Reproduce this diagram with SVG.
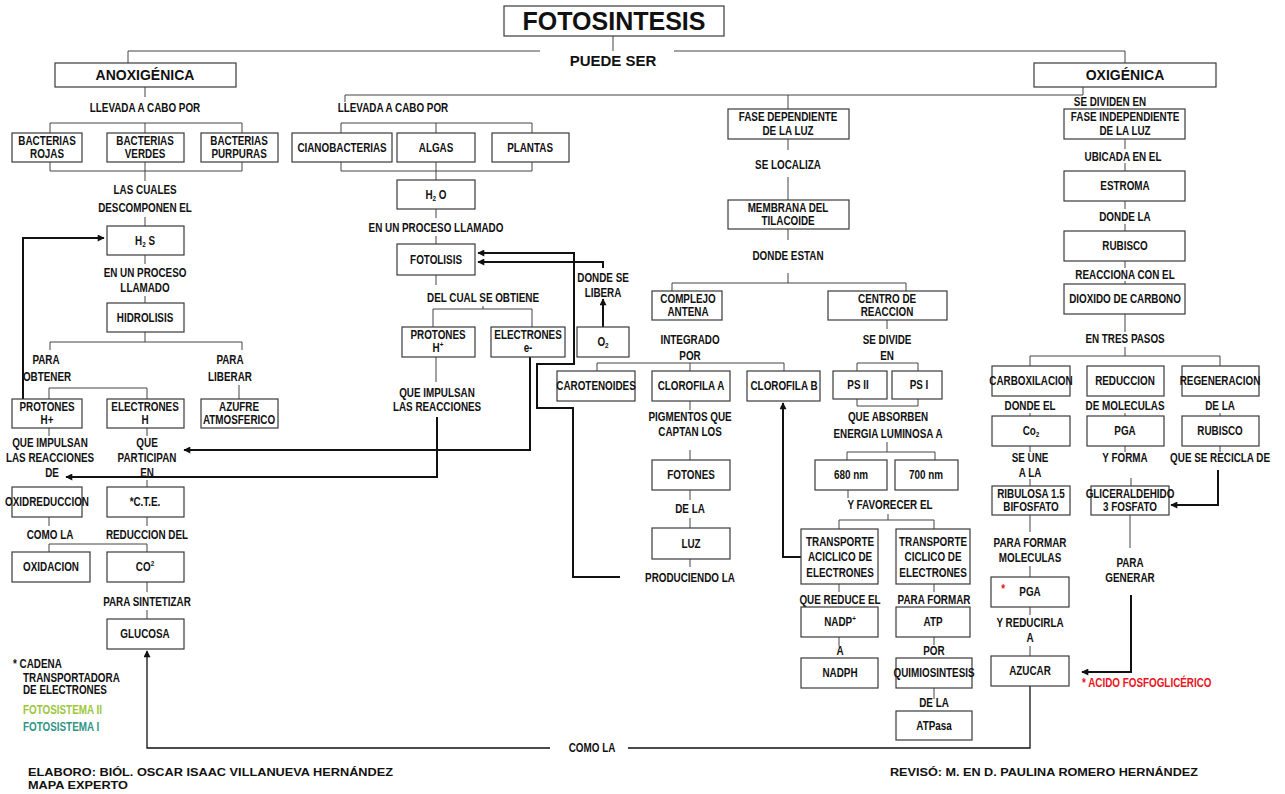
<svg xmlns="http://www.w3.org/2000/svg" width="1285" height="794" viewBox="0 0 1285 794">
<style>
.b{fill:#fff;stroke:#3a3a3a;stroke-width:1.2}
.c{fill:none;stroke:#444;stroke-width:1}
.k{fill:none;stroke:#111;stroke-width:2}
.a{fill:none;stroke:#111;stroke-width:1.3}
.t{font-family:"Liberation Sans",Arial,sans-serif;font-weight:bold;font-size:12.5px;text-anchor:middle;fill:#111;transform-box:fill-box;transform-origin:50% 50%;transform:scaleX(0.79)}
.l{text-anchor:start;transform-origin:0% 50%}
.h{font-family:"Liberation Sans",Arial,sans-serif;font-weight:bold;text-anchor:middle;fill:#111}
.f{font-family:"Liberation Sans",Arial,sans-serif;font-weight:900;font-size:11.5px;fill:#111}
.red{fill:#e8141c}
</style>
<defs>
<marker id="ah" viewBox="0 0 10 10" refX="9" refY="5" markerWidth="8" markerHeight="7" markerUnits="userSpaceOnUse" orient="auto"><path d="M0,0 L10,5 L0,10 z" fill="#111"/></marker>
</defs>

<g id="connectors">
<path class="c" d="M613,36 V51 M128,63 V51 H540 M674,51 H1125 V63 M1083,87 V95 H345 V102 M788,95 V109 M145,87 V97"/>
<path class="c" d="M50,133 V123 H242 V133 M145,123 V133 M50,162 V171 H242 V162 M145,162 V181 M145,217 V226 M145,255 V264 M145,296 V303 M145,332 V342 M50,350 V342 H242 V350 M49,399 V388 H147 V399 M239,385 V399 M49,428 V436 M147,428 V436 M147,480 V487 M49,517 V526 M147,517 V526 M49,552 V544 H147 V552 M147,582 V592 M147,610 V619"/>
<path class="c" d="M341,133 V123 H532 V133 M436,123 V133 M341,162 V171 H532 V162 M436,162 V180 M436,209 V218 M436,236 V244 M436,275 V285 M433,327 V309 H532 V327 M483,309 V306 M436,357 V382"/>
<path class="c" d="M788,139 V150 M788,177 V200 M788,229 V240 M788,273 V283 M672,291 V283 H906 V291 M887,320 V329 M597,371 V363 H784 V371 M690,363 V371 M690,401 V410 M690,450 V460 M690,490 V500 M690,518 V528 M690,559 V567 M857,371 V363 H918 V371 M857,399 V406 H918 V399 M887,442 V452 M847,460 V452 H935 V460 M848,490 V498 M888,514 V520 M839,529 V520 H934 V529 M839,584 V592 M839,637 V646 M934,584 V592 M934,637 V645 M934,688 V699"/>
<path class="c" d="M1125,139 V149 M1125,163 V171 M1125,201 V209 M1125,224 V231 M1125,261 V268 M1125,281 V284 M1125,314 V332 M1125,347 V356 M1030,366 V356 H1220 V366 M1030,413 V416 M1125,413 V416 M1220,413 V416 M1030,446 V452 M1125,446 V452 M1220,446 V452 M1030,479 V486 M1131,478 V486 M1030,515 V532 M1030,566 V577 M1030,607 V615 M1030,646 V656 M1130,515 V548"/>
<path class="k" d="M23,399 V238 H104" marker-end="url(#ah)"/>
<path class="k" d="M437,417 V477 H66" marker-end="url(#ah)"/>
<path class="k" d="M530,357 V450 H184" marker-end="url(#ah)"/>
<path class="k" d="M620,577 H573 V408 H537 V364 H574 V253 H478" marker-end="url(#ah)"/>
<path class="k" d="M603,268 V262 H478" marker-end="url(#ah)"/>
<path class="k" d="M603,327 V299" marker-end="url(#ah)"/>
<path class="k" d="M801,557 H783 V403" marker-end="url(#ah)"/>
<path class="k" d="M1218,470 V505 H1171" marker-end="url(#ah)"/>
<path class="k" d="M1131,595 V672 H1082" marker-end="url(#ah)"/>
<path class="a" d="M550,748 H147 V651" marker-end="url(#ah)"/>
<path class="a" d="M628,748 H1030 V686"/>
</g>

<g id="title"><rect class="b" x="504" y="6" width="220" height="30"/><text class="h" x="614" y="30" font-size="25">FOTOSINTESIS</text></g>
<g id="puede-ser"><text class="h" x="613" y="66" font-size="15">PUEDE SER</text></g>
<g id="anoxigenica"><rect class="b" x="55" y="63" width="181" height="24"/><text class="h" x="145" y="80" font-size="14">ANOXIGÉNICA</text></g>
<g id="oxigenica"><rect class="b" x="1034" y="63" width="182" height="24"/><text class="h" x="1125" y="80" font-size="14">OXIGÉNICA</text></g>

<g id="lbl-left"><text class="t" x="145" y="112">LLEVADA  A CABO POR</text></g>
<g id="bact-rojas"><rect class="b" x="12" y="133" width="70" height="29"/><text class="t" x="47" y="145">BACTERIAS</text><text class="t" x="47" y="158">ROJAS</text></g>
<g id="bact-verdes"><rect class="b" x="107" y="133" width="77" height="29"/><text class="t" x="145" y="145">BACTERIAS</text><text class="t" x="145" y="158">VERDES</text></g>
<g id="bact-purpuras"><rect class="b" x="201" y="133" width="77" height="29"/><text class="t" x="239" y="145">BACTERIAS</text><text class="t" x="239" y="158">PURPURAS</text></g>
<g id="lbl-cuales"><text class="t" x="145" y="194">LAS CUALES</text><text class="t" x="145" y="212">DESCOMPONEN EL</text></g>
<g id="h2s"><rect class="b" x="107" y="226" width="77" height="29"/><text class="t" x="145" y="245">H<tspan font-size="8" dy="2">2</tspan><tspan dy="-2"> S</tspan></text></g>
<g id="lbl-proceso1"><text class="t" x="145" y="277">EN UN PROCESO</text><text class="t" x="145" y="292">LLAMADO</text></g>
<g id="hidrolisis"><rect class="b" x="107" y="303" width="77" height="29"/><text class="t" x="145" y="322">HIDROLISIS</text></g>
<g id="lbl-obtener"><text class="t" x="46" y="364">PARA</text><text class="t" x="47" y="381">OBTENER</text></g>
<g id="lbl-liberar"><text class="t" x="230" y="364">PARA</text><text class="t" x="230" y="381">LIBERAR</text></g>
<g id="protones-h"><rect class="b" x="12" y="399" width="70" height="29"/><text class="t" x="47" y="411">PROTONES</text><text class="t" x="47" y="424">H+</text></g>
<g id="electrones-h"><rect class="b" x="107" y="399" width="77" height="29"/><text class="t" x="145" y="411">ELECTRONES</text><text class="t" x="145" y="424">H</text></g>
<g id="azufre"><rect class="b" x="201" y="399" width="77" height="29"/><text class="t" x="239" y="411">AZUFRE</text><text class="t" x="239" y="424">ATMOSFERICO</text></g>
<g id="lbl-impulsan1"><text class="t" x="50" y="447">QUE IMPULSAN</text><text class="t" x="50" y="462">LAS REACCIONES</text><text class="t" x="52" y="477">DE</text></g>
<g id="lbl-participan"><text class="t" x="147" y="447">QUE</text><text class="t" x="147" y="462">PARTICIPAN</text><text class="t" x="147" y="477">EN</text></g>
<g id="oxidreduccion"><rect class="b" x="12" y="487" width="70" height="30"/><text class="t" x="47" y="506" font-size="11">OXIDREDUCCION</text></g>
<g id="cte"><rect class="b" x="107" y="487" width="77" height="30"/><text class="t" x="145" y="506">*C.T.E.</text></g>
<g id="lbl-comola1"><text class="t" x="50" y="539">COMO LA</text></g>
<g id="lbl-reduccion"><text class="t" x="147" y="539">REDUCCION DEL</text></g>
<g id="oxidacion"><rect class="b" x="12" y="552" width="78" height="30"/><text class="t" x="51" y="571">OXIDACION</text></g>
<g id="co2-left"><rect class="b" x="107" y="552" width="77" height="30"/><text class="t" x="145" y="571">CO<tspan font-size="8" dy="-5">2</tspan></text></g>
<g id="lbl-sintetizar"><text class="t" x="147" y="606">PARA SINTETIZAR</text></g>
<g id="glucosa"><rect class="b" x="107" y="619" width="77" height="30"/><text class="t" x="145" y="638">GLUCOSA</text></g>

<g id="lbl-mid"><text class="t" x="393" y="112">LLEVADA  A CABO POR</text></g>
<g id="cianobacterias"><rect class="b" x="292" y="133" width="100" height="29"/><text class="t" x="342" y="152">CIANOBACTERIAS</text></g>
<g id="algas"><rect class="b" x="397" y="133" width="78" height="29"/><text class="t" x="436" y="152">ALGAS</text></g>
<g id="plantas"><rect class="b" x="492" y="133" width="77" height="29"/><text class="t" x="530" y="152">PLANTAS</text></g>
<g id="h2o"><rect class="b" x="397" y="180" width="78" height="29"/><text class="t" x="436" y="199">H<tspan font-size="8" dy="2">2</tspan><tspan dy="-2"> O</tspan></text></g>
<g id="lbl-proceso2"><text class="t" x="436" y="232">EN UN PROCESO LLAMADO</text></g>
<g id="fotolisis"><rect class="b" x="397" y="244" width="78" height="31"/><text class="t" x="436" y="264">FOTOLISIS</text></g>
<g id="lbl-delcual"><text class="t" x="483" y="302">DEL CUAL SE OBTIENE</text></g>
<g id="protones-h2"><rect class="b" x="402" y="327" width="73" height="30"/><text class="t" x="438" y="339">PROTONES</text><text class="t" x="438" y="352">H<tspan font-size="8" dy="-5">+</tspan></text></g>
<g id="electrones-e"><rect class="b" x="491" y="327" width="74" height="30"/><text class="t" x="528" y="339">ELECTRONES</text><text class="t" x="528" y="352">e-</text></g>
<g id="lbl-impulsan2"><text class="t" x="437" y="397">QUE IMPULSAN</text><text class="t" x="437" y="411">LAS REACCIONES</text></g>
<g id="lbl-libera"><text class="t" x="603" y="282">DONDE SE</text><text class="t" x="603" y="297">LIBERA</text></g>
<g id="o2"><rect class="b" x="577" y="327" width="52" height="30"/><text class="t" x="603" y="346">O<tspan font-size="8" dy="2">2</tspan></text></g>

<g id="fase-dep"><rect class="b" x="728" y="109" width="121" height="30"/><text class="t" x="788" y="121">FASE DEPENDIENTE</text><text class="t" x="788" y="135">DE LA LUZ</text></g>
<g id="lbl-localiza"><text class="t" x="788" y="169">SE LOCALIZA</text></g>
<g id="membrana"><rect class="b" x="728" y="200" width="121" height="29"/><text class="t" x="788" y="212">MEMBRANA DEL</text><text class="t" x="788" y="225">TILACOIDE</text></g>
<g id="lbl-donde-estan"><text class="t" x="788" y="260">DONDE ESTAN</text></g>
<g id="complejo"><rect class="b" x="652" y="291" width="70" height="29"/><text class="t" x="688" y="303">COMPLEJO</text><text class="t" x="688" y="316">ANTENA</text></g>
<g id="centro"><rect class="b" x="828" y="291" width="119" height="29"/><text class="t" x="887" y="303">CENTRO DE</text><text class="t" x="887" y="316">REACCION</text></g>
<g id="lbl-integrado"><text class="t" x="690" y="344">INTEGRADO</text><text class="t" x="690" y="360">POR</text></g>
<g id="carotenoides"><rect class="b" x="557" y="371" width="78" height="30"/><text class="t" x="596" y="390">CAROTENOIDES</text></g>
<g id="clorofila-a"><rect class="b" x="652" y="371" width="78" height="30"/><text class="t" x="691" y="390">CLOROFILA A</text></g>
<g id="clorofila-b"><rect class="b" x="747" y="371" width="73" height="30"/><text class="t" x="784" y="390">CLOROFILA B</text></g>
<g id="lbl-pigmentos"><text class="t" x="690" y="421">PIGMENTOS QUE</text><text class="t" x="690" y="436">CAPTAN LOS</text></g>
<g id="fotones"><rect class="b" x="652" y="460" width="78" height="30"/><text class="t" x="691" y="479">FOTONES</text></g>
<g id="lbl-dela1"><text class="t" x="690" y="513">DE LA</text></g>
<g id="luz"><rect class="b" x="652" y="528" width="78" height="31"/><text class="t" x="691" y="548">LUZ</text></g>
<g id="lbl-produciendo"><text class="t" x="690" y="582">PRODUCIENDO LA</text></g>
<g id="lbl-divide"><text class="t" x="887" y="344">SE DIVIDE</text><text class="t" x="887" y="360">EN</text></g>
<g id="ps2"><rect class="b" x="833" y="371" width="54" height="28"/><text class="t" x="858" y="389">PS II</text></g>
<g id="ps1"><rect class="b" x="892" y="371" width="50" height="28"/><text class="t" x="919" y="389">PS I</text></g>
<g id="lbl-absorben"><text class="t" x="888" y="421">QUE ABSORBEN</text><text class="t" x="888" y="438">ENERGIA LUMINOSA A</text></g>
<g id="nm680"><rect class="b" x="815" y="460" width="72" height="30"/><text class="t" x="851" y="479">680 nm</text></g>
<g id="nm700"><rect class="b" x="895" y="460" width="63" height="30"/><text class="t" x="926" y="479">700 nm</text></g>
<g id="lbl-favorecer"><text class="t" x="890" y="509">Y FAVORECER EL</text></g>
<g id="aciclico"><rect class="b" x="801" y="529" width="77" height="55"/><text class="t" x="840" y="546">TRANSPORTE</text><text class="t" x="840" y="561">ACICLICO DE</text><text class="t" x="840" y="577">ELECTRONES</text></g>
<g id="ciclico"><rect class="b" x="896" y="529" width="74" height="55"/><text class="t" x="933" y="546">TRANSPORTE</text><text class="t" x="933" y="561">CICLICO DE</text><text class="t" x="933" y="577">ELECTRONES</text></g>
<g id="lbl-reduce"><text class="t" x="840" y="604">QUE REDUCE EL</text></g>
<g id="nadp"><rect class="b" x="801" y="607" width="77" height="30"/><text class="t" x="840" y="626">NADP<tspan font-size="8" dy="-5">+</tspan></text></g>
<g id="lbl-a1"><text class="t" x="840" y="655">A</text></g>
<g id="nadph"><rect class="b" x="801" y="658" width="77" height="30"/><text class="t" x="840" y="677">NADPH</text></g>
<g id="lbl-formar1"><text class="t" x="934" y="604">PARA FORMAR</text></g>
<g id="atp"><rect class="b" x="896" y="607" width="74" height="30"/><text class="t" x="933" y="626">ATP</text></g>
<g id="lbl-por"><text class="t" x="934" y="655">POR</text></g>
<g id="quimio"><rect class="b" x="896" y="658" width="76" height="30"/><text class="t" x="934" y="677" font-size="11">QUIMIOSINTESIS</text></g>
<g id="lbl-dela2"><text class="t" x="934" y="707">DE LA</text></g>
<g id="atpasa"><rect class="b" x="896" y="711" width="76" height="29"/><text class="t" x="934" y="730">ATPasa</text></g>

<g id="lbl-dividen"><text class="t" x="1110" y="106">SE DIVIDEN EN</text></g>
<g id="fase-indep"><rect class="b" x="1064" y="109" width="121" height="30"/><text class="t" x="1125" y="121">FASE INDEPENDIENTE</text><text class="t" x="1125" y="135">DE LA LUZ</text></g>
<g id="lbl-ubicada"><text class="t" x="1123" y="161">UBICADA EN EL</text></g>
<g id="estroma"><rect class="b" x="1064" y="171" width="121" height="30"/><text class="t" x="1125" y="190">ESTROMA</text></g>
<g id="lbl-dondela"><text class="t" x="1125" y="221">DONDE LA</text></g>
<g id="rubisco1"><rect class="b" x="1064" y="231" width="121" height="30"/><text class="t" x="1125" y="250">RUBISCO</text></g>
<g id="lbl-reacciona"><text class="t" x="1125" y="279">REACCIONA CON EL</text></g>
<g id="dioxido"><rect class="b" x="1064" y="284" width="121" height="30"/><text class="t" x="1125" y="303">DIOXIDO DE CARBONO</text></g>
<g id="lbl-pasos"><text class="t" x="1125" y="343">EN TRES PASOS</text></g>
<g id="carboxilacion"><rect class="b" x="992" y="366" width="78" height="30"/><text class="t" x="1031" y="385" font-size="11">CARBOXILACION</text></g>
<g id="reduccion"><rect class="b" x="1087" y="366" width="77" height="30"/><text class="t" x="1125" y="385">REDUCCION</text></g>
<g id="regeneracion"><rect class="b" x="1182" y="366" width="77" height="30"/><text class="t" x="1220" y="385" font-size="11">REGENERACION</text></g>
<g id="lbl-dondeel"><text class="t" x="1030" y="410">DONDE EL</text></g>
<g id="lbl-moleculas"><text class="t" x="1125" y="410">DE MOLECULAS</text></g>
<g id="lbl-dela3"><text class="t" x="1220" y="410">DE LA</text></g>
<g id="co2-right"><rect class="b" x="992" y="416" width="78" height="30"/><text class="t" x="1031" y="435">Co<tspan font-size="8" dy="2">2</tspan></text></g>
<g id="pga1"><rect class="b" x="1087" y="416" width="77" height="30"/><text class="t" x="1125" y="435">PGA</text></g>
<g id="rubisco2"><rect class="b" x="1182" y="416" width="77" height="30"/><text class="t" x="1220" y="435">RUBISCO</text></g>
<g id="lbl-une"><text class="t" x="1030" y="462">SE UNE</text><text class="t" x="1030" y="477">A LA</text></g>
<g id="lbl-forma"><text class="t" x="1125" y="462">Y FORMA</text></g>
<g id="lbl-recicla"><text class="t" x="1220" y="462">QUE SE RECICLA DE</text></g>
<g id="ribulosa"><rect class="b" x="992" y="486" width="78" height="29"/><text class="t" x="1031" y="498">RIBULOSA 1.5</text><text class="t" x="1031" y="511">BIFOSFATO</text></g>
<g id="gliceraldehido"><rect class="b" x="1091" y="486" width="78" height="29"/><text class="t" x="1130" y="498" font-size="11">GLICERALDEHIDO</text><text class="t" x="1130" y="511" font-size="11">3 FOSFATO</text></g>
<g id="lbl-formar2"><text class="t" x="1030" y="547">PARA FORMAR</text><text class="t" x="1030" y="562">MOLECULAS</text></g>
<g id="pga2"><rect class="b" x="991" y="577" width="78" height="30"/><text class="t red" x="1003" y="593">*</text><text class="t" x="1030" y="596">PGA</text></g>
<g id="lbl-reducirla"><text class="t" x="1030" y="627">Y REDUCIRLA</text><text class="t" x="1030" y="642">A</text></g>
<g id="azucar"><rect class="b" x="991" y="656" width="78" height="30"/><text class="t" x="1030" y="675">AZUCAR</text></g>
<g id="lbl-generar"><text class="t" x="1130" y="567">PARA</text><text class="t" x="1130" y="582">GENERAR</text></g>
<g id="lbl-acido"><text class="t l red" x="1082" y="687">* ACIDO FOSFOGLICÉRICO</text></g>
<g id="lbl-comola2"><text class="t" x="592" y="752">COMO LA</text></g>

<g id="legend">
<text class="t l" x="13" y="668">* CADENA</text>
<text class="t l" x="23" y="682">TRANSPORTADORA</text>
<text class="t l" x="23" y="694">DE ELECTRONES</text>
<text class="t l" x="23" y="714" style="fill:#9cc63b">FOTOSISTEMA II</text>
<text class="t l" x="23" y="731" style="fill:#2f9586">FOTOSISTEMA I</text>
</g>
<g id="footer">
<text class="f" x="28" y="776" textLength="365" lengthAdjust="spacingAndGlyphs">ELABORO: BIÓL. OSCAR ISAAC VILLANUEVA HERNÁNDEZ</text>
<text class="f" x="28" y="789" textLength="100" lengthAdjust="spacingAndGlyphs">MAPA EXPERTO</text>
<text class="f" x="890" y="776" textLength="308" lengthAdjust="spacingAndGlyphs">REVISÓ: M. EN D. PAULINA ROMERO HERNÁNDEZ</text>
</g>
</svg>
